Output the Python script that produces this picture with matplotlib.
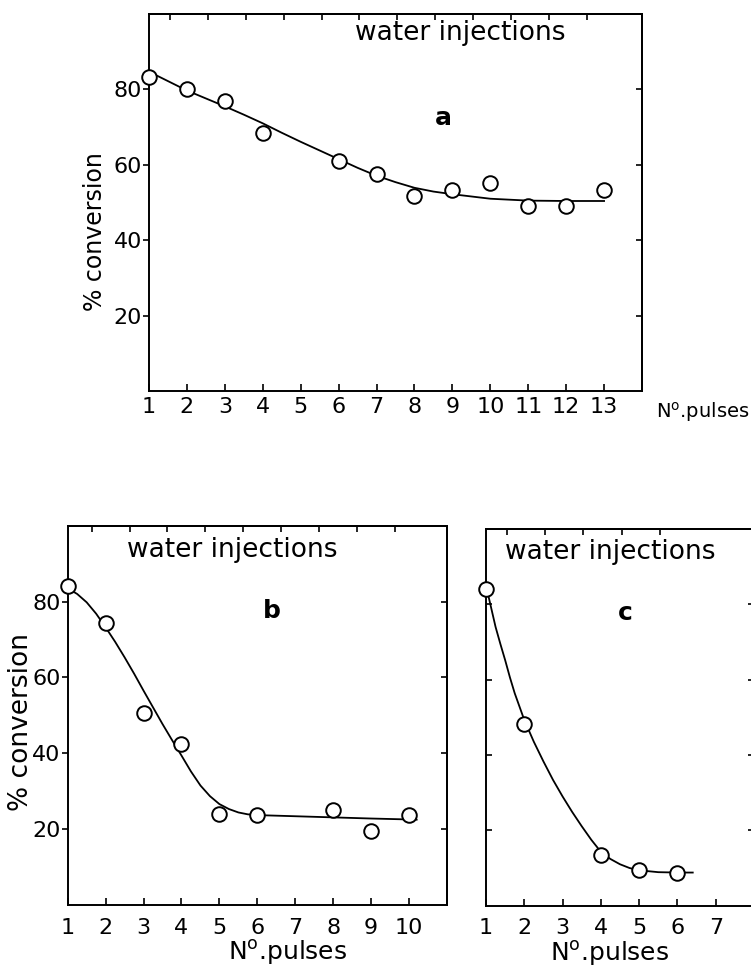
import matplotlib
matplotlib.use('Agg')
import matplotlib.pyplot as plt

plt.rcParams['font.family'] = ['DejaVu Sans']
plt.rcParams['mathtext.default'] = 'regular'

# panel a : measured points
pulses_a = [1, 2, 3, 4, 6, 7, 8, 9, 10, 11, 12, 13]
conv_a = [83.4, 80.0, 77.0, 68.5, 61.0, 57.5, 51.8, 53.4, 55.2, 49.0, 49.0, 53.2]
# panel a : drawn trend curve
curve_xa = [1, 1.5, 2, 2.5, 3, 3.5, 4, 4.5, 5, 5.5, 6, 6.5, 7, 7.5, 8, 8.5, 9, 10, 11, 12, 13]
curve_ya = [84.7, 82.2, 79.7, 77.6, 75.5, 73.3, 71.0, 68.5, 66.1, 63.8, 61.5, 59.2,
            57.1, 55.4, 53.9, 52.9, 52.2, 51.0, 50.5, 50.4, 50.4]

# panel b
pulses_b = [1, 2, 3, 4, 5, 6, 8, 9, 10]
conv_b = [84.0, 74.3, 50.6, 42.5, 24.0, 23.7, 25.0, 19.4, 23.7]
curve_xb = [1.0, 1.25, 1.5, 1.75, 2.0, 2.25, 2.5, 2.75, 3.0, 3.25, 3.5, 3.75, 4.0, 4.25,
            4.5, 4.75, 5.0, 5.25, 5.5, 5.75, 6.0, 7.0, 8.0, 9.0, 10.2]
curve_yb = [83.5, 82.0, 79.8, 76.8, 73.2, 69.4, 65.3, 61.0, 56.5, 52.1, 47.7, 43.5, 39.4, 35.2,
            31.5, 28.7, 26.6, 25.3, 24.4, 23.9, 23.7, 23.4, 23.1, 22.8, 22.5]

# panel c
pulses_c = [1, 2, 4, 5, 6]
conv_c = [84.0, 48.3, 13.4, 9.4, 8.8]
curve_xc = [1.05, 1.1, 1.25, 1.375, 1.5, 1.625, 1.75, 2.0, 2.25, 2.5, 2.75, 3.0, 3.25, 3.5,
            3.75, 4.0, 4.25, 4.5, 4.75, 5.0, 5.5, 6.0, 6.4]
curve_yc = [82.8, 80.6, 74.0, 69.5, 65.2, 60.6, 56.4, 49.3, 43.5, 38.3, 33.4, 29.0, 24.9, 21.1,
            17.5, 14.3, 12.4, 11.0, 10.0, 9.4, 8.9, 8.8, 8.8]

yticks = [20, 40, 60, 80]
W, H = 751, 977


def px(x, y):
    return x / W, 1 - y / H


def style_axes(ax, xmax, bottom_ticks, bottom_labels, top_ticks, left_dir, show_ylabels):
    ax.set_xlim(1, xmax)
    ax.set_ylim(0, 100)
    for s in ax.spines.values():
        s.set_linewidth(1.4)
    ax.set_xticks(bottom_ticks)
    ax.set_xticklabels(bottom_labels)
    ax.tick_params(axis='x', direction='in', length=5, width=1.2, pad=4, labelsize=16)
    ax.set_yticks(yticks)
    if show_ylabels:
        ax.set_yticklabels([str(v) for v in yticks])
    else:
        ax.set_yticklabels([])
    ax.tick_params(axis='y', direction=left_dir, length=4, width=1.2, pad=1, labelsize=16)
    top = ax.secondary_xaxis('top')
    top.set_ticks(top_ticks)
    top.tick_params(direction='in', length=4, width=1.2, labeltop=False)
    top.spines['top'].set_linewidth(1.4)
    right = ax.secondary_yaxis('right')
    right.set_ticks(yticks)
    right.tick_params(direction='in', length=4, width=1.2, labelright=False)
    right.spines['right'].set_linewidth(1.4)


def draw(ax, xs, ys, cx, cy):
    ax.plot(cx, cy, color='black', lw=1.3, zorder=2)
    ax.plot(xs, ys, 'o', ms=10.5, mfc='white', mec='black', mew=1.4, zorder=3, clip_on=False)


fig = plt.figure(figsize=(W / 100, H / 100), dpi=100)

# ---- panel a
ax_a = fig.add_axes([149 / W, 1 - 391 / H, (642 - 149) / W, (391 - 14) / H])
draw(ax_a, pulses_a, conv_a, curve_xa, curve_ya)
style_axes(ax_a, 14, list(range(1, 14)), [str(i) for i in range(1, 14)],
           [1.55 + i for i in range(12)], 'out', True)
ax_a.text(9.2, 95, 'water injections', fontsize=19, ha='center', va='center')
ax_a.text(8.76, 72.4, 'a', fontsize=18, fontweight='bold', ha='center', va='center')
fig.text(*px(95, 232), '% conversion', rotation=90, fontsize=17, ha='center', va='center')
fig.text(*px(703, 412), 'N$^{o}$.pulses', fontsize=14, ha='center', va='center')

# ---- panel b
ax_b = fig.add_axes([67.7 / W, 1 - 905 / H, (447 - 67.7) / W, (905 - 525.7) / H])
draw(ax_b, pulses_b, conv_b, curve_xb, curve_yb)
style_axes(ax_b, 11, list(range(1, 11)), [str(i) for i in range(1, 11)],
           [1.63 + i for i in range(9)], 'out', True)
ax_b.tick_params(axis='x', pad=9)
ax_b.text(5.34, 93.5, 'water injections', fontsize=19, ha='center', va='center')
ax_b.text(6.38, 77.6, 'b', fontsize=18, fontweight='bold', ha='center', va='center')
fig.text(*px(21, 722), '% conversion', rotation=90, fontsize=19, ha='center', va='center')
fig.text(*px(288, 952), 'N$^{o}$.pulses', fontsize=18, ha='center', va='center')

# ---- panel c
ax_c = fig.add_axes([486 / W, 1 - 905.7 / H, (754 - 486) / W, (905.7 - 529) / H])
draw(ax_c, pulses_c, conv_c, curve_xc, curve_yc)
style_axes(ax_c, 8, list(range(1, 8)), [str(i) for i in range(1, 8)],
           [1.54 + i for i in range(5)], 'in', False)
ax_c.tick_params(axis='x', pad=9)
ax_c.text(4.25, 93.8, 'water injections', fontsize=19, ha='center', va='center')
ax_c.text(4.63, 77.6, 'c', fontsize=18, fontweight='bold', ha='center', va='center')
fig.text(*px(610, 953), 'N$^{o}$.pulses', fontsize=18, ha='center', va='center')

fig.savefig('out.png', dpi=100)
